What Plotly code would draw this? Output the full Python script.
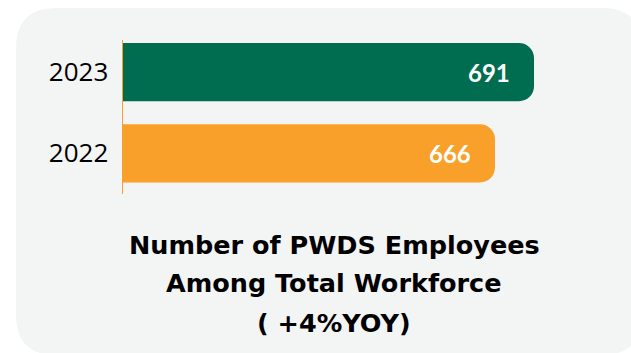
import plotly.graph_objects as go

years = ["2022", "2023"]
employees = [666, 691]
bar_colors = ["#F9A02A", "#006C50"]
title_lines = ["Number of PWDS Employees", "Among Total Workforce", "( +4%YOY)"]

W, H = 631, 353


def px(x):
    return x / W


def py_(y):
    return 1 - y / H


fig = go.Figure()
fig.add_trace(go.Bar(
    y=years, x=employees, orientation="h",
    marker=dict(color=bar_colors, line=dict(width=0)),
    hoverinfo="skip",
))

# value labels inside bar ends
for i, v in enumerate(employees):
    fig.add_annotation(x=v, y=i, xref="x", yref="y", text=f"<b>{v}</b>",
                       showarrow=False, xanchor="right", xshift=-22,
                       font=dict(family="Lato", size=24, color="white"))

# title lines
title_y = [245, 283, 323]
for t, yy in zip(title_lines, title_y):
    fig.add_annotation(x=px(334), y=py_(yy), xref="paper", yref="paper",
                       text=f"<b>{t}</b>", showarrow=False,
                       xanchor="center", yanchor="middle",
                       font=dict(family="DejaVu Sans", size=25.5, color="black"))

# rounded background panel
x0, y0, x1, y1, r = 16, 8, 642, 355, 40
path = (f"M {px(x0 + r)} {py_(y0)} L {px(x1 - r)} {py_(y0)} "
        f"Q {px(x1)} {py_(y0)} {px(x1)} {py_(y0 + r)} "
        f"L {px(x1)} {py_(y1 - r)} Q {px(x1)} {py_(y1)} {px(x1 - r)} {py_(y1)} "
        f"L {px(x0 + r)} {py_(y1)} Q {px(x0)} {py_(y1)} {px(x0)} {py_(y1 - r)} "
        f"L {px(x0)} {py_(y0 + r)} Q {px(x0)} {py_(y0)} {px(x0 + r)} {py_(y0)} Z")
fig.add_shape(type="path", path=path, xref="paper", yref="paper",
              fillcolor="#F3F4F4", line=dict(width=0), layer="below")

fig.update_layout(
    width=W, height=H,
    margin=dict(l=0, r=0, t=0, b=0),
    paper_bgcolor="white", plot_bgcolor="rgba(0,0,0,0)",
    showlegend=False,
    bargap=0.284,
    barcornerradius=15,
    xaxis=dict(domain=[px(123), px(600)], range=[427.6, 733.3],
               visible=False, fixedrange=True),
    yaxis=dict(domain=[py_(194), py_(40)], range=[-0.5, 1.395],
               type="category", showgrid=False, zeroline=False,
               showline=True, linecolor="#F9A02A", linewidth=1.5,
               ticks="", ticklabelstandoff=8, fixedrange=True,
               tickfont=dict(family="Open Sans", size=26, color="black")),
)

fig.write_html(
    "out.html",
    config={"displayModeBar": False, "staticPlot": True},
    post_script="document.body.style.margin='0';document.body.style.overflow='hidden';",
)
